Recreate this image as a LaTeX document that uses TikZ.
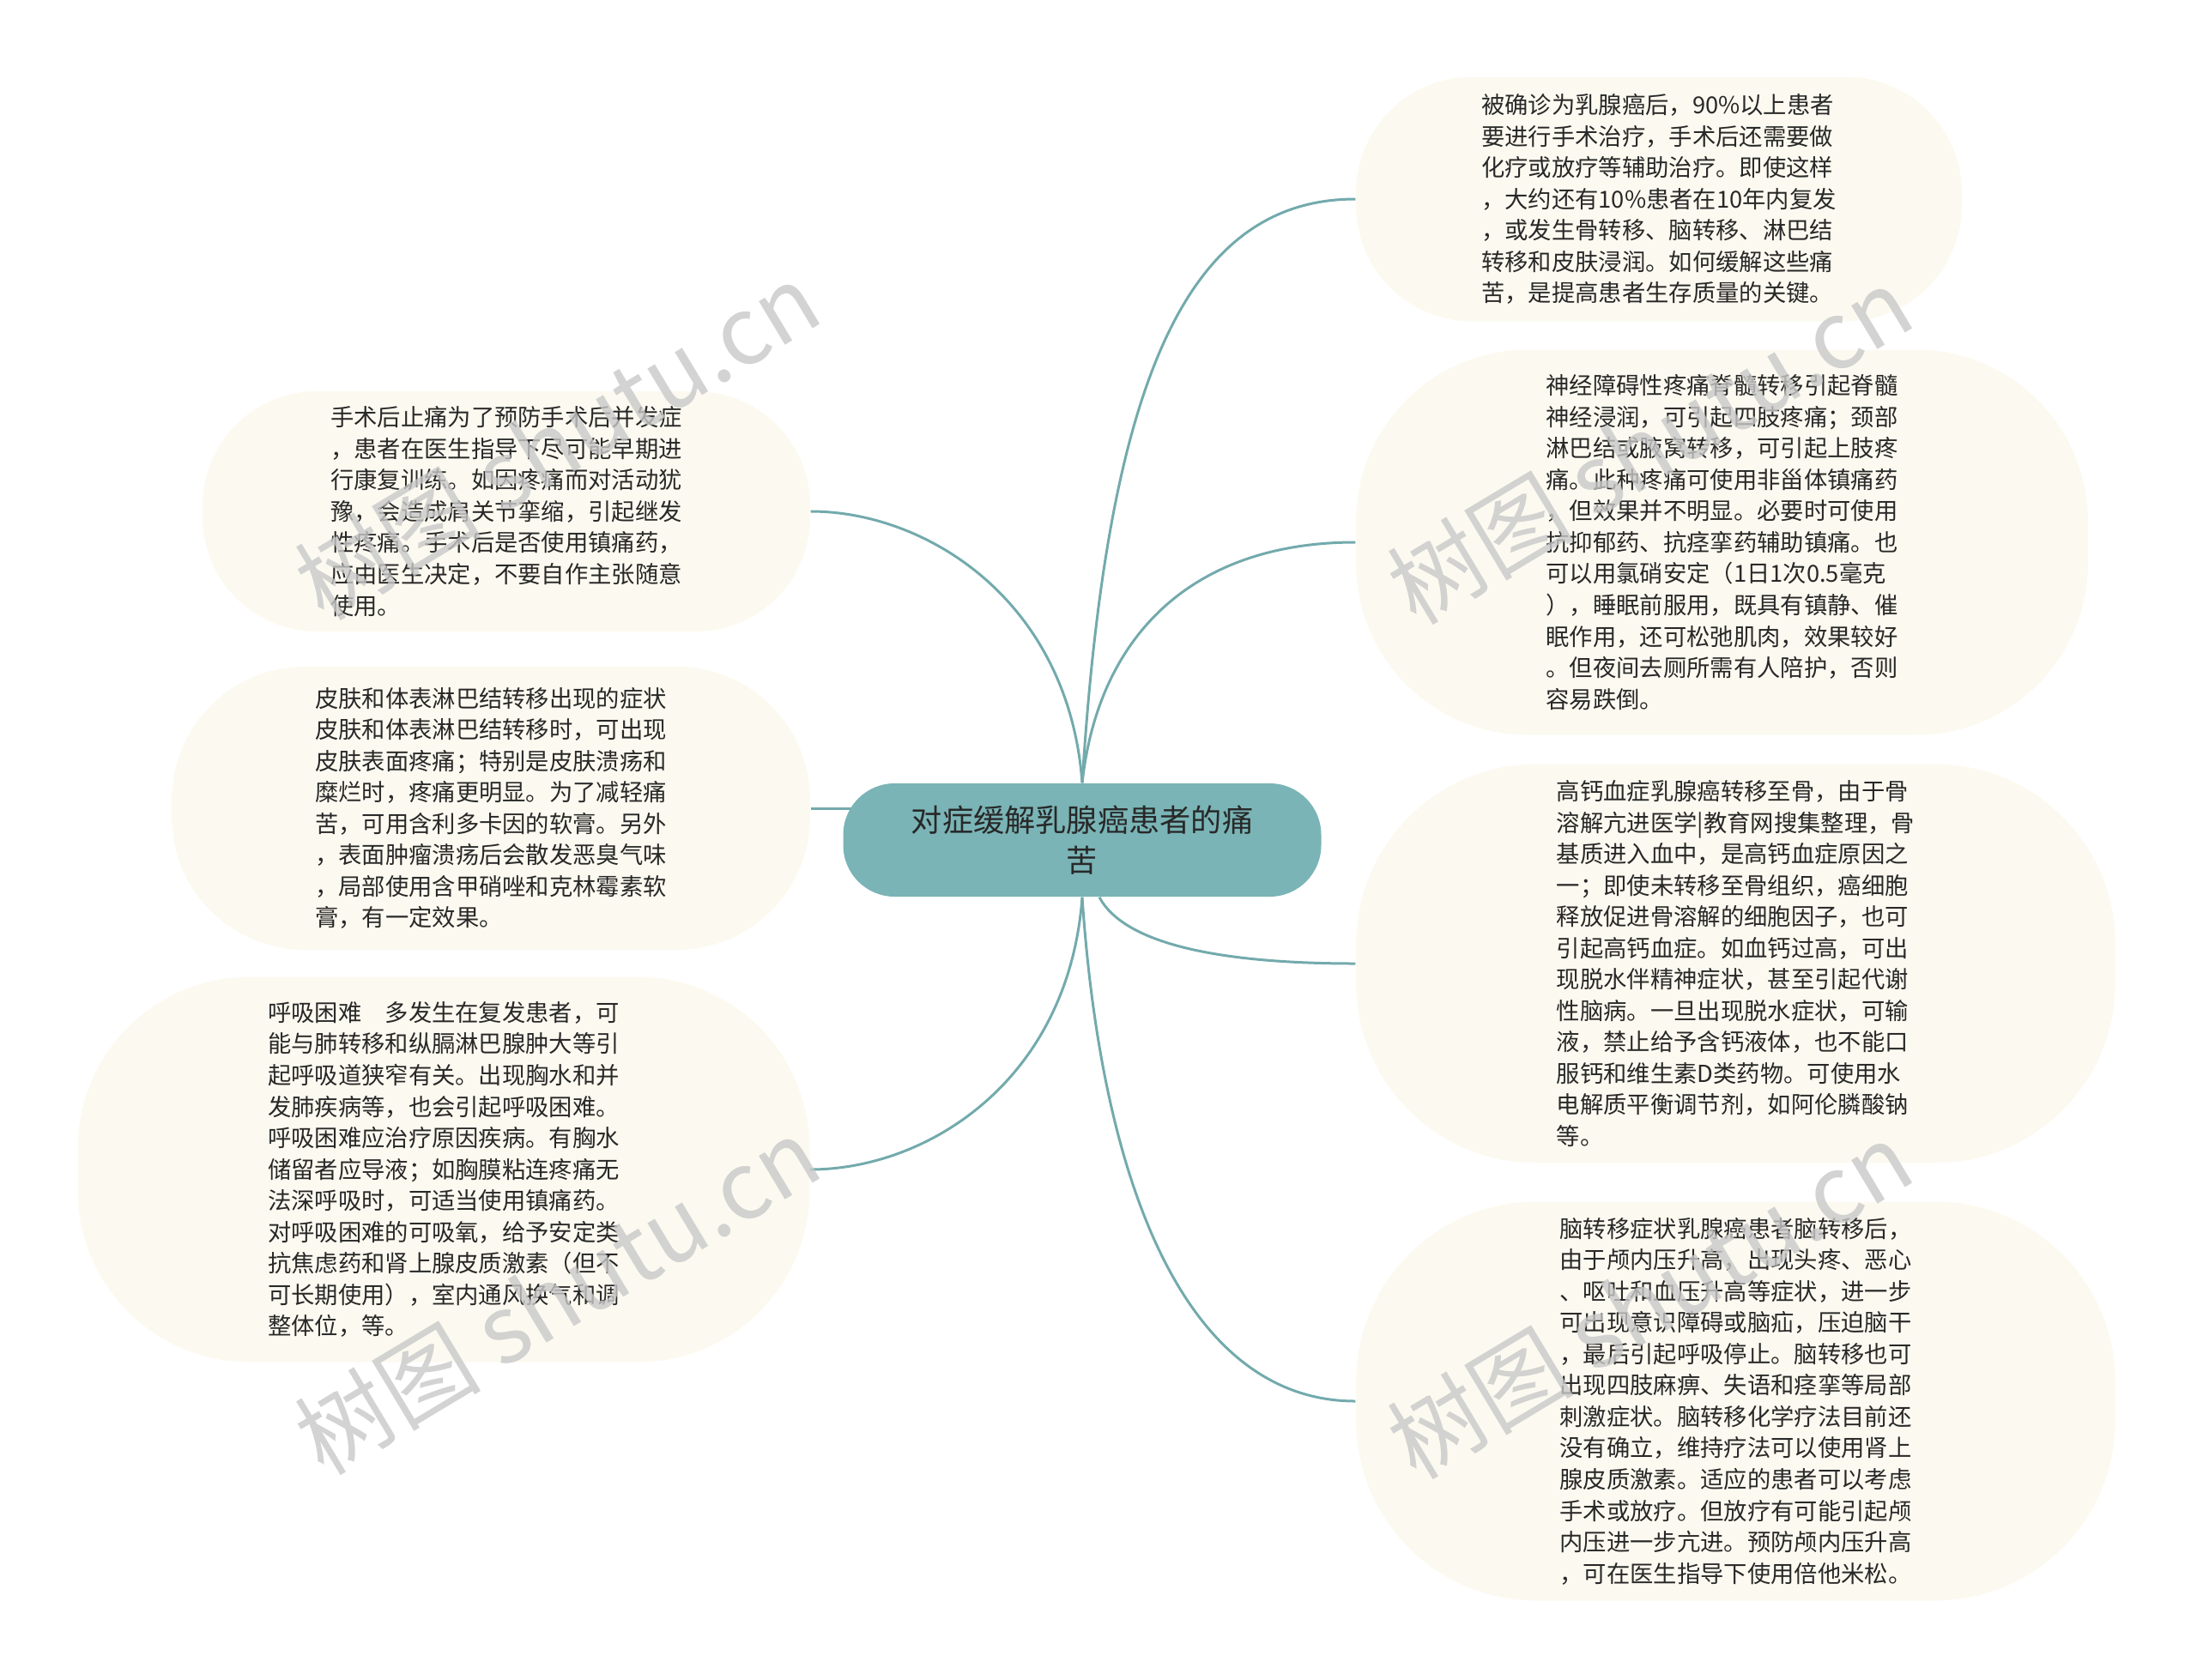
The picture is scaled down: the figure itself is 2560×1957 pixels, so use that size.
\documentclass[tikz,border=0pt]{standalone}
\usepackage{fontspec}
\setmainfont{Noto Sans CJK SC}
\usetikzlibrary{backgrounds}
\newdimen\pxu \pxu=0.01cm
\definecolor{leafc}{RGB}{252,250,240}
\definecolor{linec}{RGB}{115,170,172}
\definecolor{rootc}{RGB}{122,180,182}
\definecolor{txtc}{RGB}{40,40,40}
\definecolor{wmc}{RGB}{200,200,200}
\begin{document}
\begin{tikzpicture}[x=0.01cm,y=-0.01cm,
  leaf/.style={fill=leafc, draw=none, inner sep=0pt, align=left, text=txtc,
    font=\fontsize{7.77pt}{10.39pt}\selectfont},
  root/.style={fill=rootc, draw=none, inner sep=0pt, align=center, text=txtc,
    font=\fontsize{10.3pt}{13.4pt}\selectfont},
  conn/.style={draw=linec, line width=3\pxu},
  wm/.style={text=wmc, opacity=0.8, rotate=31, inner sep=0pt,
    font=\fontsize{31pt}{31pt}\selectfont}]
\useasboundingbox (0,0) rectangle (2560,1957);

% root
\node[root, minimum width=557\pxu, minimum height=132\pxu, rounded corners=60\pxu] (c) at (1261,979)
  {对症缓解乳腺癌患者的痛\\苦};

% right leaves
\node[leaf, minimum width=706\pxu, minimum height=285\pxu, rounded corners=135\pxu] (r1) at (1933,232)
  {被确诊为乳腺癌后，90\%以上患者\\要进行手术治疗，手术后还需要做\\化疗或放疗等辅助治疗。即使这样\\，大约还有10\%患者在10年内复发\\，或发生骨转移、脑转移、淋巴结\\转移和皮肤浸润。如何缓解这些痛\\苦，是提高患者生存质量的关键。};

\node[leaf, minimum width=853\pxu, minimum height=449\pxu, rounded corners=200\pxu] (r2) at (2006.5,632)
  {神经障碍性疼痛脊髓转移引起脊髓\\神经浸润，可引起四肢疼痛；颈部\\淋巴结或腋窝转移，可引起上肢疼\\痛。此种疼痛可使用非甾体镇痛药\\，但效果并不明显。必要时可使用\\抗抑郁药、抗痉挛药辅助镇痛。也\\可以用氯硝安定（1日1次0.5毫克\\），睡眠前服用，既具有镇静、催\\眠作用，还可松弛肌肉，效果较好\\。但夜间去厕所需有人陪护，否则\\容易跌倒。};

\node[leaf, minimum width=885\pxu, minimum height=465\pxu, rounded corners=210\pxu] (r3) at (2022.5,1123)
  {高钙血症乳腺癌转移至骨，由于骨\\溶解亢进医学|教育网搜集整理，骨\\基质进入血中，是高钙血症原因之\\一；即使未转移至骨组织，癌细胞\\释放促进骨溶解的细胞因子，也可\\引起高钙血症。如血钙过高，可出\\现脱水伴精神症状，甚至引起代谢\\性脑病。一旦出现脱水症状，可输\\液，禁止给予含钙液体，也不能口\\服钙和维生素D类药物。可使用水\\电解质平衡调节剂，如阿伦膦酸钠\\等。};

\node[leaf, minimum width=885\pxu, minimum height=465\pxu, rounded corners=210\pxu] (r4) at (2022.5,1633)
  {脑转移症状乳腺癌患者脑转移后，\\由于颅内压升高，出现头疼、恶心\\、呕吐和血压升高等症状，进一步\\可出现意识障碍或脑疝，压迫脑干\\，最后引起呼吸停止。脑转移也可\\出现四肢麻痹、失语和痉挛等局部\\刺激症状。脑转移化学疗法目前还\\没有确立，维持疗法可以使用肾上\\腺皮质激素。适应的患者可以考虑\\手术或放疗。但放疗有可能引起颅\\内压进一步亢进。预防颅内压升高\\，可在医生指导下使用倍他米松。};

% left leaves
\node[leaf, minimum width=708\pxu, minimum height=280\pxu, rounded corners=133\pxu] (l1) at (590,596)
  {手术后止痛为了预防手术后并发症\\，患者在医生指导下尽可能早期进\\行康复训练。如因疼痛而对活动犹\\豫，会造成肩关节挛缩，引起继发\\性疼痛。手术后是否使用镇痛药，\\应由医生决定，不要自作主张随意\\使用。};

\node[leaf, minimum width=744\pxu, minimum height=330\pxu, rounded corners=155\pxu] (l2) at (572,942)
  {皮肤和体表淋巴结转移出现的症状\\皮肤和体表淋巴结转移时，可出现\\皮肤表面疼痛；特别是皮肤溃疡和\\糜烂时，疼痛更明显。为了减轻痛\\苦，可用含利多卡因的软膏。另外\\，表面肿瘤溃疡后会散发恶臭气味\\，局部使用含甲硝唑和克林霉素软\\膏，有一定效果。};

\node[leaf, minimum width=853\pxu, minimum height=449\pxu, rounded corners=200\pxu] (l3) at (517,1363)
  {呼吸困难　多发生在复发患者，可\\能与肺转移和纵膈淋巴腺肿大等引\\起呼吸道狭窄有关。出现胸水和并\\发肺疾病等，也会引起呼吸困难。\\呼吸困难应治疗原因疾病。有胸水\\储留者应导液；如胸膜粘连疼痛无\\法深呼吸时，可适当使用镇痛药。\\对呼吸困难的可吸氧，给予安定类\\抗焦虑药和肾上腺皮质激素（但不\\可长期使用），室内通风换气和调\\整体位，等。};

% connectors
\begin{scope}[on background layer]
\draw[conn] (c.north) .. controls (1245,700) and (1080,596) .. (l1.east);
\draw[conn] (l2.east) -- ([xshift=40\pxu]c.west |- l2.east);
\draw[conn] (c.south) .. controls (1245,1260) and (1080,1363) .. (l3.east);
\draw[conn] (c.north) .. controls (1290,450) and (1380,232) .. (r1.west);
\draw[conn] (c.north) .. controls (1280,740) and (1390,632) .. (r2.west);
\draw[conn] ([xshift=20\pxu]c.south) .. controls (1310,1100) and (1420,1123) .. (r3.west);
\draw[conn] (c.south) .. controls (1285,1400) and (1390,1633) .. (r4.west);
\end{scope}

% watermarks
\node[wm] (w1) at (649,514) {树图 \textit{shutu.cn}};
\node[wm] (w2) at (1922,519) {树图 \textit{shutu.cn}};
\node[wm] (w3) at (649,1510) {树图 \textit{shutu.cn}};
\node[wm] (w4) at (1922,1515) {树图 \textit{shutu.cn}};
\end{tikzpicture}
\end{document}
